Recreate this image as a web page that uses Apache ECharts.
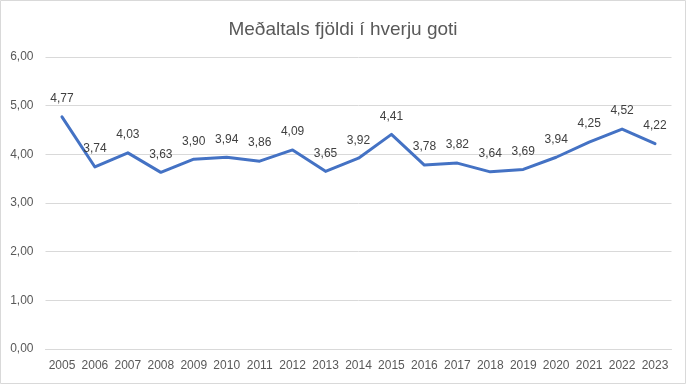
<!DOCTYPE html>
<html>
<head>
<meta charset="utf-8">
<script src="https://cdn.jsdelivr.net/npm/echarts@6/dist/echarts.min.js"></script>
<style>html,body{margin:0;padding:0;background:#fff}#c{width:686px;height:384px}</style>
</head>
<body>
<div id="c"></div>
<script>
const years = ['2005','2006','2007','2008','2009','2010','2011','2012','2013','2014','2015','2016','2017','2018','2019','2020','2021','2022','2023'];
const values = [4.77,3.74,4.03,3.63,3.90,3.94,3.86,4.09,3.65,3.92,4.41,3.78,3.82,3.64,3.69,3.94,4.25,4.52,4.22];
const titleText = 'Meðaltals fjöldi í hverju goti';
const fmt = v => v.toFixed(2).replace('.', ',');
const chart = echarts.init(document.getElementById('c'));
chart.setOption({
  animation: false,
  textStyle: {fontFamily: 'Liberation Sans'},
  title: {text: titleText, left: 'center', top: 15,
    textStyle: {fontSize: 19, fontWeight: 'normal', color: '#595959', fontFamily: 'Liberation Sans'}},
  graphic: [{type: 'rect', shape: {x: 0.5, y: 0.5, width: 685, height: 383},
    style: {fill: 'none', stroke: '#d9d9d9', lineWidth: 1}, silent: true}],
  grid: {left: 45.5, right: 14.5, top: 57, bottom: 35, containLabel: false},
  xAxis: {type: 'category', data: years, boundaryGap: true,
    axisLine: {show: true, lineStyle: {color: '#d9d9d9'}}, axisTick: {show: false},
    axisLabel: {color: '#595959', fontSize: 12, margin: 11, interval: 0}},
  yAxis: {type: 'value', min: 0, max: 6, interval: 1,
    axisLine: {show: false}, axisTick: {show: false},
    splitLine: {lineStyle: {color: '#d9d9d9'}},
    axisLabel: {color: '#595959', fontSize: 12, margin: 12, formatter: v => fmt(v)}},
  series: [{type: 'line', data: values, symbol: 'circle', symbolSize: 0, showSymbol: true,
    lineStyle: {color: '#4472C4', width: 3, cap: 'round', join: 'round'},
    itemStyle: {color: '#4472C4'},
    labelLayout: {hideOverlap: false},
    label: {show: true, position: 'top', distance: 12, color: '#404040', fontSize: 12,
      formatter: p => fmt(p.value)}}]
});
</script>
</body>
</html>
